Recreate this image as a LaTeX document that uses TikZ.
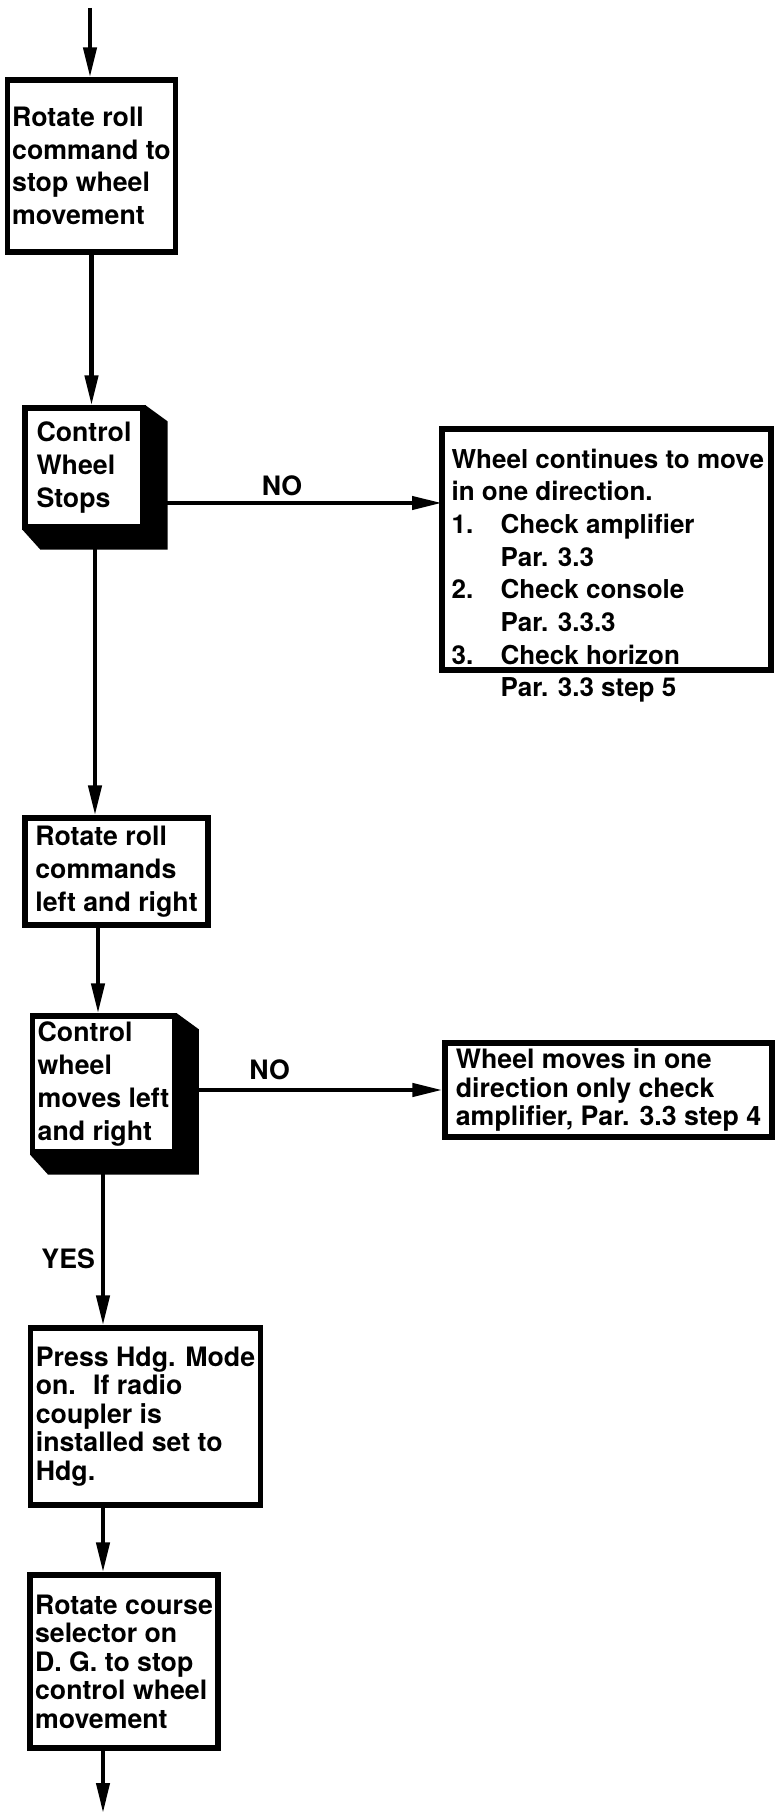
\documentclass[tikz,border=0pt]{standalone}
\usepackage{fontspec}
\setmainfont{TeX Gyre Heros}
\usetikzlibrary{arrows.meta,calc}
\newcommand{\blockshade}[1]{%
	\fill (#1.north east) -- ++(0.22,-0.16) -- ($(#1.south east)+(0.22,-0.2)$) -- ($(#1.south west)+(0.18,-0.2)$) -- (#1.south west) -- (#1.south east) -- cycle;}

\begin{document}
\begin{tikzpicture}[>={Triangle[length=0.3cm,width=0.13cm]}, line width=1.2pt,
		stepbox/.style={draw, fill=white, line width=1.5pt, align=left, inner sep=0.05cm, font=\bfseries\fontsize{7.6}{9.3}\selectfont},
		stepboxlow/.style={stepbox, font=\bfseries\fontsize{7.6}{8.1}\selectfont},
		lbl/.style={font=\bfseries\fontsize{7.6}{9}\selectfont}]
		\useasboundingbox (0,0) rectangle (7.75,-18.17);
		\node[stepbox, minimum width=1.67cm, minimum height=1.72cm] (rot) at (0.915,-1.66) {Rotate roll\\command to\\stop wheel\\movement};
		\node[stepbox, minimum width=1.18cm, minimum height=1.19cm] (cws) at (0.84,-4.675) {Control\\Wheel\\Stops};
		\blockshade{cws}
		\node[stepbox, draw=none, fill=none, anchor=north west, inner xsep=0.07cm, inner ysep=0.17cm, font=\bfseries\fontsize{7.4}{9.3}\selectfont] (cont) at (4.42,-4.29) {Wheel continues to move\\in one direction.\\\makebox[0.49cm][l]{1.}Check amplifier\\\hspace*{0.49cm}Par. 3.3\\\makebox[0.49cm][l]{2.}Check console\\\hspace*{0.49cm}Par. 3.3.3\\\makebox[0.49cm][l]{3.}Check horizon\\\hspace*{0.49cm}Par. 3.3 step 5};
		\draw[line width=1.5pt] (cont.north west) rectangle ($(cont.north west)+(3.29,-2.41)$);
		\node[stepbox, minimum width=1.83cm, minimum height=1.07cm] (rrc) at (1.165,-8.715) {Rotate roll\\commands\\left and right};
		\node[stepbox, minimum width=1.37cm, minimum height=1.36cm] (cwm) at (1.035,-10.84) {Control\\wheel\\moves left\\and right};
		\blockshade{cwm}
		\node[stepboxlow, minimum width=3.27cm, minimum height=0.94cm] (wmo) at (6.085,-10.90) {Wheel moves in one\\direction only check\\amplifier, Par. 3.3 step 4};
		\node[stepboxlow, minimum width=2.25cm, minimum height=1.77cm] (hdg) at (1.455,-14.165) {Press Hdg. Mode\\on.~ If radio\\coupler is\\installed set to\\Hdg.};
		\node[stepboxlow, minimum width=1.78cm, minimum height=1.73cm] (course) at (1.24,-16.615) {Rotate course\\selector on\\D. G. to stop\\control wheel\\movement};
		\coordinate (start) at (0.90,-0.08);
		\coordinate (no1) at (1.66,-5.03);
		\coordinate (cwsb) at (0.95,-5.48);
		\coordinate (rrcb) at ([xshift=-1.85mm]rrc.south);
		\coordinate (no2) at (1.92,-10.90);
		\coordinate (cwmb) at (1.03,-11.73);
		\coordinate (finish) at (1.03,-18.13);
		\draw[->] (start) -- (start |- rot.north);
		\draw[->] (rot.south) -- (rot.south |- cws.north);
		\draw[->] (no1) -- node[lbl, above, pos=0.42, inner ysep=0.05cm] {NO} (no1 -| cont.west);
		\draw[->] (cwsb) -- (cwsb |- rrc.north);
		\draw[->] (rrcb) -- (rrcb |- cwm.north);
		\draw[->] (no2) -- node[lbl, above, pos=0.31, inner ysep=0.08cm] {NO} (no2 -| wmo.west);
		\draw[->] (cwmb) -- node[lbl, left, pos=0.56, inner xsep=0.06cm] {YES} (cwmb |- hdg.north);
		\draw[->] (cwmb |- hdg.south) -- (cwmb |- course.north);
		\draw[->] (cwmb |- course.south) -- (finish);
	\end{tikzpicture}
\end{document}
